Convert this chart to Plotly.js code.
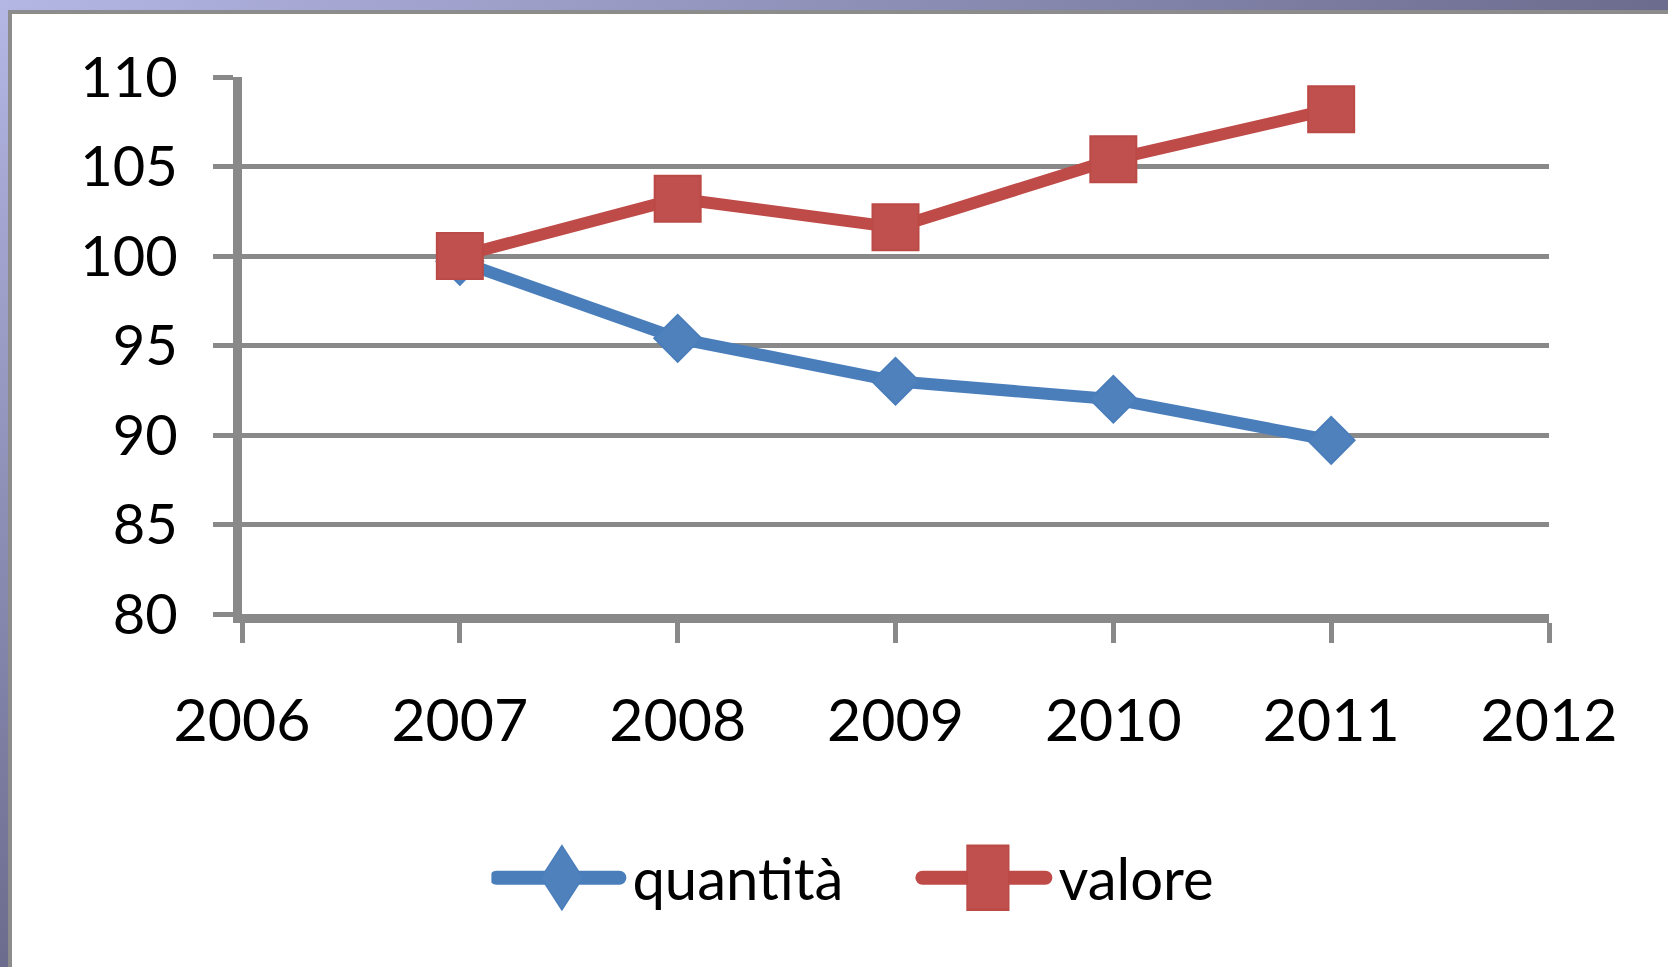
<!DOCTYPE html>
<html>
<head>
<meta charset="utf-8">
<script src="https://cdn.plot.ly/plotly-3.0.1.min.js"></script>
<style>
  html, body { margin: 0; padding: 0; width: 1668px; height: 967px; overflow: hidden; }
  body { background: linear-gradient(to bottom right, #b4b6e4 0%, #6c6c8e 50%, #505070 100%); position: relative; }
  #panel { position: absolute; left: 8px; top: 10px; right: 0; bottom: 0; background: #ffffff;
           border-top: 4px solid #8c8c8c; border-left: 4px solid #8c8c8c; }
  #chart { position: absolute; left: 0; top: 0; width: 1668px; height: 967px; }
</style>
</head>
<body>
<div id="panel"></div>
<div id="chart"></div>
<script>
// Data
var years = [2007, 2008, 2009, 2010, 2011];
var quantita = [99.7, 95.4, 93.0, 92.0, 89.7];
var valore = [100.0, 103.2, 101.6, 105.4, 108.2];
var seriesNames = ["quantità", "valore"];
var xTickYears = [2006, 2007, 2008, 2009, 2010, 2011, 2012];
var yTickValues = [80, 85, 90, 95, 100, 105, 110];

var gray = '#898989';
var traces = [
  {
    x: years, y: quantita, name: seriesNames[0], type: 'scatter', mode: 'lines+markers',
    line: { color: '#4a7ebb', width: 12 },
    marker: { symbol: 'diamond', size: 36, color: '#4f81bd', line: { color: '#4a7ebb', width: 2 } }
  },
  {
    x: years, y: valore, name: seriesNames[1], type: 'scatter', mode: 'lines+markers',
    line: { color: '#be4b48', width: 12 },
    marker: { symbol: 'square', size: 46, color: '#c0504d', line: { color: '#bb4a47', width: 2 } }
  }
];

var layout = {
  width: 1668, height: 967,
  paper_bgcolor: 'rgba(0,0,0,0)',
  plot_bgcolor: 'rgba(0,0,0,0)',
  margin: { l: 242, r: 119, t: 77, b: 353 },
  font: { family: 'Lato, "Open Sans", sans-serif', color: '#000000' },
  showlegend: true,
  legend: {
    orientation: 'h', xref: 'container', yref: 'container',
    x: 0.2946, xanchor: 'left', y: 0.092, yanchor: 'middle',
    font: { size: 58, color: '#000000' },
    itemwidth: 131,
    entrywidth: 280, entrywidthmode: 'pixels'
  },
  xaxis: {
    range: [2006, 2012], tickmode: 'array', tickvals: xTickYears, ticktext: xTickYears.map(String),
    showgrid: false, zeroline: false,
    showline: true, linecolor: gray, linewidth: 9,
    ticks: 'outside', ticklen: 20, tickwidth: 5, tickcolor: gray,
    tickfont: { size: 59 }, ticklabelstandoff: 27
  },
  yaxis: {
    range: [80, 110], tickmode: 'array', tickvals: yTickValues, ticktext: yTickValues.map(String),
    showgrid: true, gridcolor: gray, gridwidth: 5, zeroline: false,
    showline: true, linecolor: gray, linewidth: 9,
    ticks: 'outside', ticklen: 20, tickwidth: 5, tickcolor: gray,
    tickfont: { size: 56 }, ticklabelstandoff: 24
  }
};

// legend symbol styling (legend markers are capped in size by the library; enlarge them)
var legendMarkerScale = [[2.0, 3.1], [2.6, 4.0]];
var legendLineWidth = 14;
var legendLineTrim = 8;

var gd = document.getElementById('chart');
Plotly.newPlot(gd, traces, layout, { displayModeBar: false, staticPlot: true }).then(function () {
  var items = gd.querySelectorAll('.legend .traces');
  items.forEach(function (item, i) {
    item.querySelectorAll('.legendlines path').forEach(function (p) {
      p.style.strokeWidth = legendLineWidth + 'px';
      p.style.strokeLinecap = 'round';
      try {
        var bb = p.getBBox();
        if (bb.width > legendLineTrim) {
          p.setAttribute('d', 'M' + bb.x + ',' + (bb.y + bb.height / 2) + 'h' + (bb.width - legendLineTrim));
        }
      } catch (e) {}
    });
    var s = legendMarkerScale[i] || [1, 1];
    item.querySelectorAll('.legendpoints path.scatterpts').forEach(function (p) {
      var t = p.getAttribute('transform') || '';
      p.setAttribute('transform', t + ' scale(' + s[0] + ',' + s[1] + ')');
      p.style.strokeWidth = '0.6px';
    });
  });
});
</script>
</body>
</html>
